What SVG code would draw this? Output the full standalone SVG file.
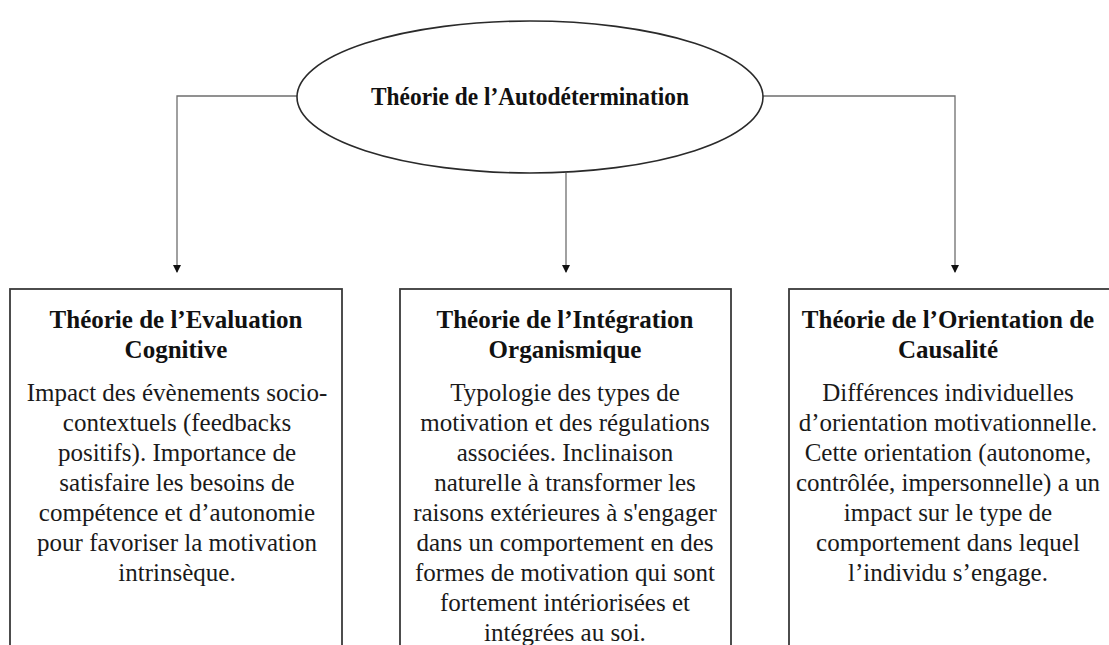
<svg xmlns="http://www.w3.org/2000/svg" width="1109" height="645" viewBox="0 0 1109 645">
  <defs>
    <style>
      .conn { fill: none; stroke: #6e6e6e; stroke-width: 1.3; }
      .box { fill: #ffffff; stroke: #3a3a3a; stroke-width: 1.8; }
      .ell { fill: #ffffff; stroke: #2a2a2a; stroke-width: 1.6; }
      .title { font-family: "Liberation Serif", "Times New Roman", serif; font-weight: bold; font-size: 25px; fill: #111; text-anchor: middle; }
      .body { font-family: "Liberation Serif", "Times New Roman", serif; font-size: 25px; fill: #1a1a1a; text-anchor: middle; }
      .main { font-family: "Liberation Serif", "Times New Roman", serif; font-weight: bold; font-size: 24.5px; fill: #111; text-anchor: middle; }
    </style>
    <marker id="arrow" markerWidth="8" markerHeight="10" refX="7" refY="4" orient="auto" markerUnits="userSpaceOnUse">
      <path d="M0,0 L8,4 L0,8 Z" fill="#111"/>
    </marker>
  </defs>
  <rect width="1109" height="645" fill="#ffffff"/>

  <g id="connectors">
    <polyline class="conn" points="297,96 177,96 177,272" marker-end="url(#arrow)"/>
    <line class="conn" x1="566" y1="173" x2="566" y2="272" marker-end="url(#arrow)"/>
    <polyline class="conn" points="763,96 955,96 955,272" marker-end="url(#arrow)"/>
  </g>

  <g id="node-root">
    <ellipse class="ell" cx="530" cy="97" rx="233" ry="76"/>
    <text class="main" x="530" y="105" textLength="318" lengthAdjust="spacingAndGlyphs">Théorie de l’Autodétermination</text>
  </g>

  <g id="node-evaluation">
    <rect class="box" x="10" y="289" width="332" height="380"/>
    <text class="title" x="176" y="328">Théorie de l’Evaluation</text>
    <text class="title" x="176" y="358">Cognitive</text>
    <text class="body" x="177" y="401">Impact des évènements socio-</text>
    <text class="body" x="177" y="431">contextuels (feedbacks</text>
    <text class="body" x="177" y="461">positifs). Importance de</text>
    <text class="body" x="177" y="491">satisfaire les besoins de</text>
    <text class="body" x="177" y="521">compétence et d’autonomie</text>
    <text class="body" x="177" y="551">pour favoriser la motivation</text>
    <text class="body" x="177" y="581">intrinsèque.</text>
  </g>

  <g id="node-integration">
    <rect class="box" x="400" y="289" width="331" height="380"/>
    <text class="title" x="565" y="328">Théorie de l’Intégration</text>
    <text class="title" x="565" y="358">Organismique</text>
    <text class="body" x="565" y="401">Typologie des types de</text>
    <text class="body" x="565" y="431">motivation et des régulations</text>
    <text class="body" x="565" y="461">associées. Inclinaison</text>
    <text class="body" x="565" y="491">naturelle à transformer les</text>
    <text class="body" x="565" y="521">raisons extérieures à s'engager</text>
    <text class="body" x="565" y="551">dans un comportement en des</text>
    <text class="body" x="565" y="581">formes de motivation qui sont</text>
    <text class="body" x="565" y="611">fortement intériorisées et</text>
    <text class="body" x="565" y="641">intégrées au soi.</text>
  </g>

  <g id="node-orientation">
    <rect class="box" x="789" y="289" width="335" height="380"/>
    <text class="title" x="948" y="328">Théorie de l’Orientation de</text>
    <text class="title" x="948" y="358">Causalité</text>
    <text class="body" x="948" y="401">Différences individuelles</text>
    <text class="body" x="948" y="431">d’orientation motivationnelle.</text>
    <text class="body" x="948" y="461">Cette orientation (autonome,</text>
    <text class="body" x="948" y="491">contrôlée, impersonnelle) a un</text>
    <text class="body" x="948" y="521">impact sur le type de</text>
    <text class="body" x="948" y="551">comportement dans lequel</text>
    <text class="body" x="948" y="581">l’individu s’engage.</text>
  </g>
</svg>
